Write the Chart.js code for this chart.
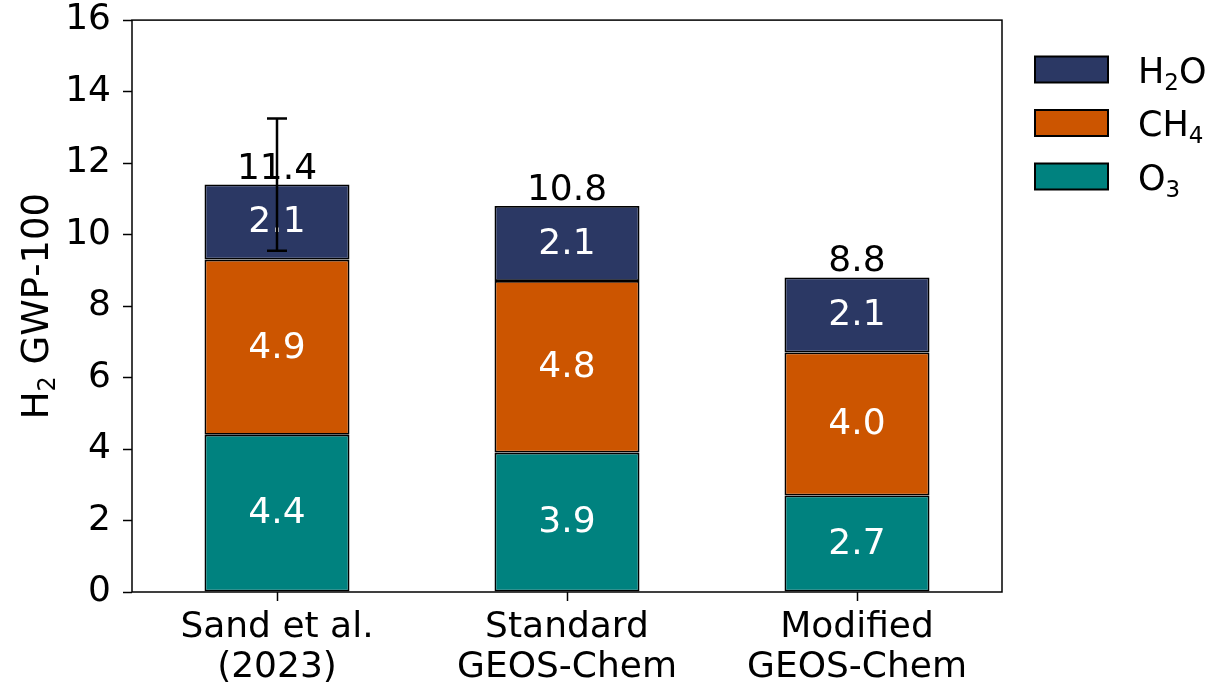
<!DOCTYPE html>
<html>
<head>
<meta charset="utf-8">
<script src="https://cdn.jsdelivr.net/npm/chart.js@4"></script>
<style>
  html, body { margin: 0; padding: 0; background: #fff; }
  #wrap { width: 1219px; height: 686px; }
</style>
</head>
<body>
<div id="wrap"><canvas id="grafica" width="1219" height="686"></canvas></div>
<script>
// datos
const categorias = [['Sand et al.', '(2023)'], ['Standard', 'GEOS-Chem'], ['Modified', 'GEOS-Chem']];
const o3 = [4.4, 3.9, 2.7];
const ch4 = [4.9, 4.8, 4.0];
const h2o = [2.1, 2.1, 2.1];
const totales = [11.4, 10.8, 8.8];
const errInf = [9.55, null, null];
const errSup = [13.25, null, null];
const yTicks = [0, 2, 4, 6, 8, 10, 12, 14, 16];
const tituloY = 'H₂ GWP-100';

const FONT = 'DejaVu Sans';
const SIZE = 36;
const SUBS = '₀₁₂₃₄₅₆₇₈₉';

// texto con subindices (tipo mathtext), alineado a la izquierda desde x
function partes(txt) {
    const out = [];
    for (const ch of txt) {
        const k = SUBS.indexOf(ch);
        out.push(k >= 0 ? { t: String(k), sub: true } : { t: ch, sub: false });
    }
    return out;
}
function anchoSub(ctx, txt, size) {
    let w = 0;
    partes(txt).forEach(p => {
        ctx.font = `${p.sub ? Math.round(size * 0.66) : size}px "${FONT}"`;
        w += ctx.measureText(p.t).width;
    });
    return w;
}
function textoSub(ctx, txt, x, y, size) {
    ctx.textAlign = 'left';
    ctx.textBaseline = 'alphabetic';
    partes(txt).forEach(p => {
        ctx.font = `${p.sub ? Math.round(size * 0.66) : size}px "${FONT}"`;
        ctx.fillText(p.t, x, p.sub ? y + size * 0.2 : y);
        x += ctx.measureText(p.t).width;
    });
}

const extras = {
    id: 'extras',
    afterDatasetsDraw(chart) {
        const ctx = chart.ctx;
        const y = chart.scales.y;
        const a = chart.chartArea;
        ctx.save();
        ctx.font = `${SIZE}px "${FONT}"`;
        ctx.textAlign = 'center';
        ctx.textBaseline = 'middle';
        ctx.fillStyle = '#fff';
        chart.data.datasets.forEach((ds, i) => {
            chart.getDatasetMeta(i).data.forEach((bar, j) => {
                const mid = (bar.y + bar.base) / 2;
                ctx.fillText(ds.data[j].toFixed(1), bar.x, mid + 1);
            });
        });
        // totales
        ctx.fillStyle = '#000';
        ctx.textBaseline = 'alphabetic';
        const top = chart.getDatasetMeta(chart.data.datasets.length - 1).data;
        totales.forEach((t, j) => {
            ctx.fillText(t.toFixed(1), top[j].x, y.getPixelForValue(t) - 6);
        });
        // barra de error
        ctx.strokeStyle = '#000';
        ctx.lineWidth = 2.5;
        errInf.forEach((lo, j) => {
            if (lo === null) return;
            const x = top[j].x;
            const y1 = y.getPixelForValue(lo), y2 = y.getPixelForValue(errSup[j]);
            ctx.beginPath();
            ctx.moveTo(x, y1); ctx.lineTo(x, y2);
            ctx.moveTo(x - 10, y1); ctx.lineTo(x + 10, y1);
            ctx.moveTo(x - 10, y2); ctx.lineTo(x + 10, y2);
            ctx.stroke();
        });
        // marco
        ctx.lineWidth = 1.5;
        ctx.strokeRect(a.left, a.top, a.right - a.left, a.bottom - a.top);
        // titulo eje y
        ctx.save();
        ctx.translate(35, (a.top + a.bottom) / 2);
        ctx.rotate(-Math.PI / 2);
        ctx.fillStyle = '#000';
        const w = anchoSub(ctx, tituloY, 37);
        textoSub(ctx, tituloY, -w / 2, 13, 37);
        ctx.restore();
        // leyenda
        const items = chart.data.datasets.slice().reverse();
        items.forEach((ds, k) => {
            const cy = 69.5 + k * 53.5;
            ctx.fillStyle = ds.backgroundColor;
            ctx.fillRect(1035, cy - 13, 73, 26);
            ctx.lineWidth = 2;
            ctx.strokeStyle = '#000';
            ctx.strokeRect(1035, cy - 13, 73, 26);
            ctx.fillStyle = '#000';
            textoSub(ctx, ds.label, 1138, cy + 13, 35);
        });
        ctx.restore();
    }
};

const ctx = document.getElementById('grafica').getContext('2d');
const chart = new Chart(ctx, {
    type: 'bar',
    data: {
        labels: categorias,
        datasets: [
            { label: 'O₃', data: o3, backgroundColor: '#00827f' },
            { label: 'CH₄', data: ch4, backgroundColor: '#cc5500' },
            { label: 'H₂O', data: h2o, backgroundColor: '#2b3864' }
        ]
    },
    options: {
        responsive: false,
        animation: false,
        layout: { padding: { top: 0, right: 217, left: 0, bottom: 0 } },
        datasets: {
            bar: {
                borderColor: '#000',
                borderWidth: 1.8,
                borderSkipped: false,
                categoryPercentage: 0.5,
                barPercentage: 1
            }
        },
        plugins: { legend: { display: false }, tooltip: { enabled: false } },
        scales: {
            x: {
                stacked: true,
                grid: { display: true, drawOnChartArea: false, offset: false, tickLength: 9, color: '#000', tickWidth: 1.5 },
                border: { display: false },
                ticks: { color: '#000', padding: 7, font: { family: FONT, size: SIZE, lineHeight: 1.1 }, maxRotation: 0 },
                afterFit(s) { s.height = 94; }
            },
            y: {
                stacked: true,
                min: 0,
                max: 16,
                afterBuildTicks(s) { s.ticks = yTicks.map(v => ({ value: v })); },
                grid: { display: true, drawOnChartArea: false, tickLength: 9, color: '#000', tickWidth: 1.5 },
                border: { display: false },
                ticks: { color: '#000', padding: 12, font: { family: FONT, size: SIZE, lineHeight: 0.45 } },
                afterFit(s) { s.width = 132; }
            }
        }
    },
    plugins: [extras]
});
</script>
</body>
</html>
